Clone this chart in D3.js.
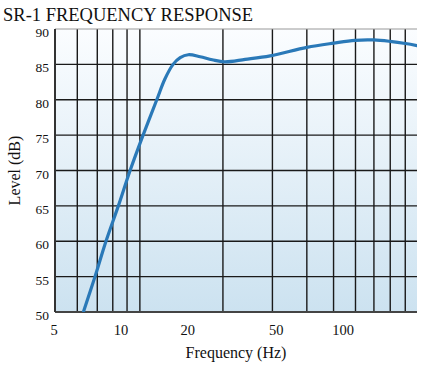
<!DOCTYPE html>
<html>
<head>
<meta charset="utf-8">
<script src="https://cdn.jsdelivr.net/npm/d3@7"></script>
<style>
  body { margin: 0; background: #fff; }
  svg { display: block; font-family: "Liberation Serif", "DejaVu Serif", serif; }
</style>
</head>
<body>
<div id="chart"></div>
<script>
// frequency (Hz) and level (dB)
const freqs = [6.71, 7.57, 8.48, 9.64, 10.89, 12.46, 14.36, 15.6, 17.0, 18.3, 19.9, 22.5, 25.5, 29.0, 35.9, 46.5, 68, 89.7, 112, 136, 161, 189, 213];
const levels = [50, 55, 60, 65, 70, 75, 80, 82.9, 85, 85.95, 86.36, 86.08, 85.65, 85.35, 85.7, 86.2, 87.4, 88.0, 88.4, 88.45, 88.25, 87.95, 87.65];

// vertical grid lines (Hz) as drawn in the original
const gridFreqs = [6.3, 7.75, 9.1, 10.55, 12.05, 28.5, 47.6, 68, 89.7, 112.6, 136.3, 161.4, 188.6];
const xTicks = [5, 10, 20, 50, 100];
const yTicks = [50, 55, 60, 65, 70, 75, 80, 85, 90];

const W = 422, H = 367;
const margin = { top: 29, right: 5, bottom: 55, left: 55 };
const width = W - margin.left - margin.right,
  height = H - margin.top - margin.bottom;

const svg = d3.select("#chart")
  .append("svg")
  .attr("width", W)
  .attr("height", H);

const defs = svg.append("defs");
const grad = defs.append("linearGradient")
  .attr("id", "bg")
  .attr("x1", 0).attr("y1", 0).attr("x2", 0).attr("y2", 1);
grad.append("stop").attr("offset", "0%").attr("stop-color", "#fbfdff");
grad.append("stop").attr("offset", "100%").attr("stop-color", "#cce2f0");

defs.append("clipPath").attr("id", "clip")
  .append("rect").attr("width", width).attr("height", height);

const g = svg.append("g")
  .attr("transform", `translate(${margin.left},${margin.top})`);

const x = d3.scaleLog()
  .domain([5, 213])
  .range([0, width]);

const y = d3.scaleLinear()
  .domain([50, 90])
  .range([height, 0]);

// background
g.append("rect")
  .attr("width", width)
  .attr("height", height)
  .attr("fill", "url(#bg)");

// horizontal grid
g.selectAll(".hgrid")
  .data(yTicks.slice(1, -1))
  .enter()
  .append("line")
  .attr("class", "hgrid")
  .attr("x1", 0)
  .attr("x2", width)
  .attr("y1", d => y(d))
  .attr("y2", d => y(d))
  .attr("stroke", "#1a1a1a")
  .attr("stroke-width", 1.4);

// vertical grid
g.selectAll(".vgrid")
  .data(gridFreqs)
  .enter()
  .append("line")
  .attr("class", "vgrid")
  .attr("x1", d => x(d))
  .attr("x2", d => x(d))
  .attr("y1", 0)
  .attr("y2", height)
  .attr("stroke", "#1a1a1a")
  .attr("stroke-width", 1.4);

// frame
g.append("line")
  .attr("x1", 0).attr("x2", width)
  .attr("y1", 0).attr("y2", 0)
  .attr("stroke", "#999").attr("stroke-width", 1);
g.append("line")
  .attr("x1", 0).attr("x2", width)
  .attr("y1", height).attr("y2", height)
  .attr("stroke", "#444").attr("stroke-width", 2);
g.append("line")
  .attr("x1", 0).attr("x2", 0)
  .attr("y1", 0).attr("y2", height)
  .attr("stroke", "#333").attr("stroke-width", 2);

// response curve
const line = d3.line()
  .x((d, i) => x(freqs[i]))
  .y(d => y(d))
  .curve(d3.curveCatmullRom.alpha(0.5));

g.append("path")
  .datum(levels)
  .attr("clip-path", "url(#clip)")
  .attr("fill", "none")
  .attr("stroke", "#2a79b8")
  .attr("stroke-width", 3.2)
  .attr("stroke-linecap", "round")
  .attr("d", line);

// y tick labels
g.selectAll(".ylab")
  .data(yTicks)
  .enter()
  .append("text")
  .attr("class", "ylab")
  .attr("x", -6)
  .attr("y", d => y(d) + 8)
  .attr("text-anchor", "end")
  .style("font-size", "13.5px")
  .style("fill", "#111")
  .text(d => d);

// x tick labels
g.selectAll(".xlab")
  .data(xTicks)
  .enter()
  .append("text")
  .attr("class", "xlab")
  .attr("x", d => x(d) - 1)
  .attr("y", height + 23)
  .attr("text-anchor", "middle")
  .style("font-size", "14.5px")
  .style("fill", "#111")
  .text(d => d);

// axis titles
g.append("text")
  .attr("x", width / 2)
  .attr("y", height + 46)
  .attr("text-anchor", "middle")
  .style("font-size", "16px")
  .style("fill", "#111")
  .text("Frequency (Hz)");

svg.append("text")
  .attr("transform", `translate(20,${margin.top + height / 2}) rotate(-90)`)
  .attr("text-anchor", "middle")
  .style("font-size", "16px")
  .style("fill", "#111")
  .text("Level (dB)");

// title
svg.append("text")
  .attr("x", 3)
  .attr("y", 21)
  .style("font-size", "18.5px")
  .style("fill", "#111")
  .text("SR-1 FREQUENCY RESPONSE");
</script>
</body>
</html>
